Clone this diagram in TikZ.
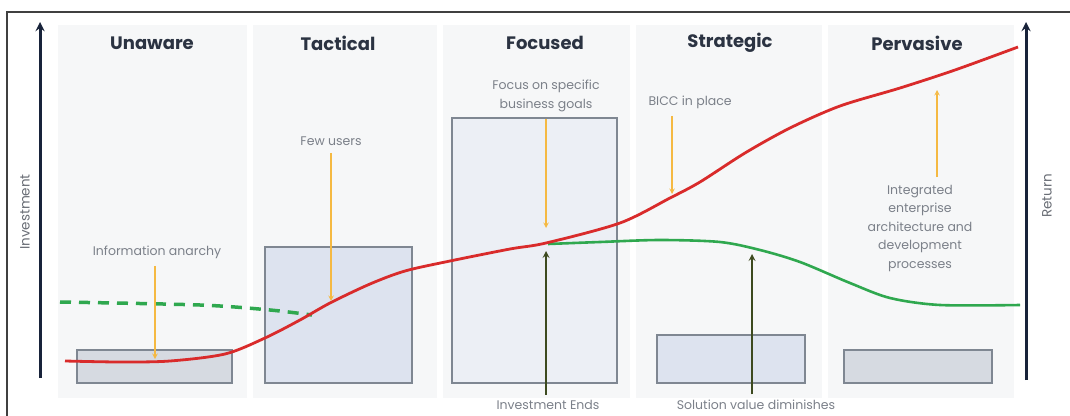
\documentclass[tikz,border=0pt]{standalone}
\usepackage{fontspec}
\setmainfont{Poppins}
\usepackage{tikz}
\usetikzlibrary{shapes,arrows}

\definecolor{titlegray}{HTML}{2B3342}
\definecolor{notegray}{HTML}{7B8089}
\definecolor{axisnavy}{HTML}{18233A}
\definecolor{returnred}{HTML}{D92B2B}
\definecolor{valuegreen}{HTML}{2FA84F}
\definecolor{hintyellow}{HTML}{F5B942}
\definecolor{causeolive}{HTML}{3D4A1F}
\definecolor{barline}{HTML}{7F8792}
\definecolor{bargray}{HTML}{D6DAE1}
\definecolor{barblue}{HTML}{DDE3EF}
\definecolor{barlight}{HTML}{ECEFF5}
\definecolor{panelgray}{HTML}{F6F7F8}

\begin{document}
\begin{tikzpicture}[x=1pt,y=-1pt,
  stage/.style={font=\bfseries\fontsize{18}{21}\selectfont,text=titlegray},
  note/.style={font=\fontsize{12.5}{18.5}\selectfont,text=notegray,align=center},
  axislabel/.style={font=\fontsize{13.5}{15}\selectfont,text=notegray!85!black,rotate=90},
  panel/.style={fill=panelgray,draw=none},
  bar/.style={draw=barline,line width=1.4pt,fill=#1},
  hint/.style={draw=hintyellow,line width=1.4pt,->,>=stealth,shorten <=4pt},
  cause/.style={draw=causeolive,line width=2pt,->,>=stealth,shorten <=4pt},
  axis/.style={draw=axisnavy,line width=3pt,->,>=stealth}]

\useasboundingbox (0,0) rectangle (1070,415);

% to draw the frame
\draw [line width=1.3pt,black!75] (7,420) -- (7,12) -- (1075,12);

% to draw the stage panels
\fill [panel] (58,25) rectangle (247,398);
\fill [panel] (253,25) rectangle (437,398);
\fill [panel] (443,25) rectangle (630,398);
\fill [panel] (636,25) rectangle (822,398);
\fill [panel] (828,25) rectangle (1014,398);

% to write stages
\node [stage] (unaware) at (152,43) {Unaware};
\node [stage] (tactical) at (338,43) {Tactical};
\node [stage] (focused) at (545,43) {Focused};
\node [stage] (strategic) at (730,43) {Strategic};
\node [stage] (pervasive) at (917,43) {Pervasive};

% to draw investment bars
\draw [bar=bargray] (77,350) rectangle (232,383);
\draw [bar=barblue] (265,247) rectangle (412,383);
\draw [bar=barlight] (452,118) rectangle (617,383);
\draw [bar=barblue] (657,335) rectangle (805,383);
\draw [bar=bargray] (844,350) rectangle (992,383);

% to draw axes
\draw [axis] (40,378) -- (40,22);
\draw [axis] (1026,380) -- (1026,22);
\node [axislabel] (investment) at (25,212) {Investment};
\node [axislabel] (return) at (1047,196) {Return};

%Curves:
\draw [valuegreen,line width=3.5pt,dash pattern=on 11pt off 8pt]
  plot [smooth] coordinates {(60,302) (200,305) (270,310) (312,315)};
\draw [valuegreen,line width=2.6pt]
  plot [smooth] coordinates {(548,244) (600,242) (660,240) (720,242) (760,250)
  (800,262) (850,283) (890,298) (940,305) (1020,305)};
\draw [returnred,line width=2.8pt]
  plot [smooth] coordinates {(65,361) (120,362) (170,361) (225,354) (265,338)
  (300,320) (330,303) (370,284) (405,271) (450,261) (510,249) (546,243)
  (620,223) (670,198) (700,182) (745,153) (790,128) (840,106) (900,88)
  (955,70) (1018,47)};

% to mark points on the curves
\coordinate (anarchytip) at (155,359);
\coordinate (userstip) at (331,301);
\coordinate (goalstip) at (546,228);
\coordinate (bicctip) at (672,194);
\coordinate (integtip) at (937,90);
\coordinate (endstip) at (546,251);
\coordinate (diminishtip) at (752,254);

% to write notes
\node [note] (anarchy) at (157,252) {Information anarchy};
\node [note] (users) at (331,141) {Few users};
\node [note] (goals) at (546,96) {Focus on specific\\business goals};
\node [note,anchor=west] (bicc) at (645,102) {BICC in place};
\node [note] (integ) at (920,228) {Integrated\\enterprise\\architecture and\\development\\processes};
\node [note,anchor=base,inner sep=1pt] (ends) at (548,409) {Investment Ends};
\node [note,anchor=base,inner sep=1pt] (diminish) at (756,409) {Solution value diminishes};

% to draw arrows from notes
\draw [hint] (anarchytip |- anarchy.south) -- (anarchytip);
\draw [hint] (users) -- (userstip);
\draw [hint] (goalstip |- goals.south) -- (goalstip);
\draw [hint] (bicctip |- bicc.south) -- (bicctip);
\draw [hint] (integtip |- integ.north) -- (integtip);
\draw [cause] (endstip |- ends.north) -- (endstip);
\draw [cause] (diminishtip |- diminish.north) -- (diminishtip);
\end{tikzpicture}
\end{document}
